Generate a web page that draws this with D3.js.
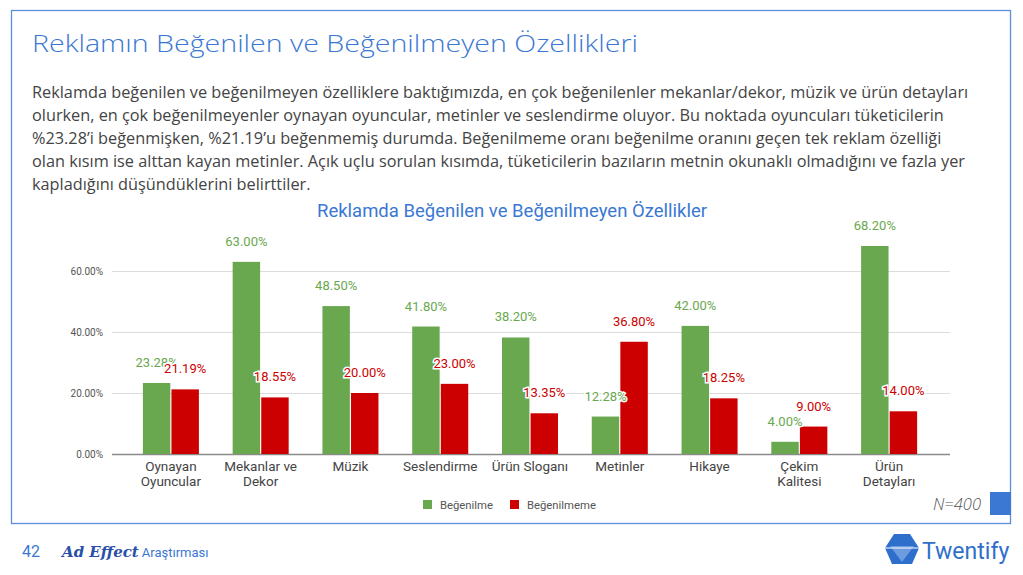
<!DOCTYPE html>
<html>
<head>
<meta charset="utf-8">
<script src="https://cdn.jsdelivr.net/npm/d3@7"></script>
<style>
  body { margin: 0; background: #fff; }
  svg { display: block; }
</style>
</head>
<body>
<div id="slide"></div>
<script>
// chart data
var categories = ["Oynayan Oyuncular", "Mekanlar ve Dekor", "Müzik", "Seslendirme", "Ürün Sloganı",
                  "Metinler", "Hikaye", "Çekim Kalitesi", "Ürün Detayları"];
var categoryLines = [["Oynayan", "Oyuncular"], ["Mekanlar ve", "Dekor"], ["Müzik"], ["Seslendirme"],
                     ["Ürün Sloganı"], ["Metinler"], ["Hikaye"], ["Çekim", "Kalitesi"], ["Ürün", "Detayları"]];
var liked = [23.28, 63.00, 48.50, 41.80, 38.20, 12.28, 42.00, 4.00, 68.20];
var disliked = [21.19, 18.55, 20.00, 23.00, 13.35, 36.80, 18.25, 9.00, 14.00];
var seriesNames = ["Beğenilme", "Beğenilmeme"];
var yTicks = [0, 20, 40, 60];

var paragraph = [
  "Reklamda beğenilen ve beğenilmeyen özelliklere baktığımızda, en çok beğenilenler mekanlar/dekor, müzik ve ürün detayları",
  "olurken, en çok beğenilmeyenler oynayan oyuncular, metinler ve seslendirme oluyor. Bu noktada oyuncuları tüketicilerin",
  "%23.28’i beğenmişken, %21.19’u beğenmemiş durumda. Beğenilmeme oranı beğenilme oranını geçen tek reklam özelliği",
  "olan kısım ise alttan kayan metinler. Açık uçlu sorulan kısımda, tüketicilerin bazıların metnin okunaklı olmadığını ve fazla yer",
  "kapladığını düşündüklerini belirttiler."
];

var width = 1023, height = 575;
var colors = ["#6aa84f", "#cc0000"];

var svg = d3.select("#slide").append("svg")
    .attr("width", width)
    .attr("height", height);

// frame
svg.append("rect")
    .attr("x", 11.5).attr("y", 10.5)
    .attr("width", 999).attr("height", 513)
    .attr("fill", "none")
    .attr("stroke", "#5b8fdc")
    .attr("stroke-width", 1.3);

svg.append("text")
    .attr("x", 32).attr("y", 52)
    .attr("textLength", 606)
    .attr("lengthAdjust", "spacingAndGlyphs")
    .style("font-family", "'Open Sans', sans-serif")
    .style("font-weight", 300)
    .style("font-size", "24px")
    .style("fill", "#3a78d3")
    .text("Reklamın Beğenilen ve Beğenilmeyen Özellikleri");

svg.append("g").selectAll("text")
    .data(paragraph)
    .enter().append("text")
    .attr("x", 32)
    .attr("y", function (d, i) { return 98 + i * 23; })
    .style("font-family", "'Open Sans', sans-serif")
    .style("font-size", "16.3px")
    .style("fill", "#444")
    .text(function (d) { return d; });

// chart
var x = d3.scaleBand()
    .domain(categories)
    .range([126, 934])
    .paddingInner(0.376)
    .paddingOuter(0.188);

var xSub = d3.scaleBand()
    .domain([0, 1])
    .range([0, x.bandwidth()])
    .paddingInner(0.04);

var y = d3.scaleLinear()
    .domain([0, 60])
    .range([454, 271]);

svg.append("text")
    .attr("x", 512).attr("y", 217)
    .attr("text-anchor", "middle")
    .style("font-family", "Roboto, sans-serif")
    .style("font-size", "18.5px")
    .style("fill", "#3a78d3")
    .text("Reklamda Beğenilen ve Beğenilmeyen Özellikler");

var grid = svg.append("g");
grid.selectAll("line")
    .data(yTicks)
    .enter().append("line")
    .attr("x1", 112).attr("x2", 950)
    .attr("y1", function (d) { return Math.round(y(d)) + 0.5; })
    .attr("y2", function (d) { return Math.round(y(d)) + 0.5; })
    .attr("stroke", function (d) { return d === 0 ? "#8a8a8a" : "#dcdcdc"; })
    .attr("stroke-width", function (d) { return d === 0 ? 1.5 : 1; });

var yAxis = svg.append("g")
    .attr("transform", "translate(106,0)")
    .call(d3.axisLeft(y).tickValues(yTicks).tickSize(0)
        .tickFormat(function (d) { return d.toFixed(2) + "%"; }));
yAxis.select(".domain").remove();
yAxis.selectAll("text")
    .style("font-family", "Roboto, sans-serif")
    .style("font-size", "10px")
    .style("fill", "#555");

var rows = categories.map(function (c, i) {
    return { cat: c, values: [liked[i], disliked[i]] };
});

var groups = svg.append("g").selectAll("g")
    .data(rows)
    .enter().append("g")
    .attr("transform", function (d) { return "translate(" + x(d.cat) + ",0)"; });

groups.selectAll("rect")
    .data(function (d) { return d.values; })
    .enter().append("rect")
    .attr("x", function (d, i) { return xSub(i); })
    .attr("y", function (d) { return y(d); })
    .attr("width", xSub.bandwidth())
    .attr("height", function (d) { return y(0) - y(d); })
    .attr("fill", function (d, i) { return colors[i]; });

groups.selectAll("text.val")
    .data(function (d) { return d.values; })
    .enter().append("text")
    .attr("class", "val")
    .attr("x", function (d, i) { return xSub(i) + xSub.bandwidth() / 2; })
    .attr("y", function (d) { return y(d) - 16; })
    .attr("text-anchor", "middle")
    .style("font-family", "Roboto, sans-serif")
    .style("font-size", "13px")
    .style("fill", function (d, i) { return colors[i]; })
    .style("stroke", "#fff")
    .style("stroke-width", 3)
    .style("paint-order", "stroke")
    .text(function (d) { return d.toFixed(2) + "%"; });

// category labels
svg.append("g").selectAll("text")
    .data(categories)
    .enter().append("text")
    .attr("x", function (d) { return x(d) + x.bandwidth() / 2; })
    .attr("y", 471)
    .attr("text-anchor", "middle")
    .style("font-family", "Roboto, sans-serif")
    .style("font-size", "13.5px")
    .style("fill", "#444")
    .selectAll("tspan")
    .data(function (d, i) { return categoryLines[i]; })
    .enter().append("tspan")
    .attr("x", function () { var c = d3.select(this.parentNode).datum(); return x(c) + x.bandwidth() / 2; })
    .attr("dy", function (d, i) { return i === 0 ? 0 : 14.5; })
    .text(function (d) { return d; });

// legend
var legend = svg.append("g").selectAll("g")
    .data(seriesNames)
    .enter().append("g")
    .attr("transform", function (d, i) { return "translate(" + (423 + i * 87) + ",500)"; });
legend.append("rect")
    .attr("width", 9).attr("height", 9)
    .attr("fill", function (d, i) { return colors[i]; });
legend.append("text")
    .attr("x", 17).attr("y", 8.5)
    .style("font-family", "Roboto, sans-serif")
    .style("font-size", "11.3px")
    .style("fill", "#555")
    .text(function (d) { return d; });

svg.append("text")
    .attr("x", 981).attr("y", 510)
    .attr("text-anchor", "end")
    .style("font-family", "'Open Sans', sans-serif")
    .style("font-style", "italic")
    .style("font-weight", 300)
    .style("font-size", "16.5px")
    .style("fill", "#555")
    .text("N=400");

svg.append("rect")
    .attr("x", 990).attr("y", 492)
    .attr("width", 21).attr("height", 23)
    .attr("fill", "#3a78d3");

// footer
svg.append("text")
    .attr("x", 22).attr("y", 557)
    .style("font-family", "Roboto, sans-serif")
    .style("font-size", "16px")
    .style("fill", "#3a78d3")
    .text("42");

var foot = svg.append("text")
    .attr("x", 62).attr("y", 557);
foot.append("tspan")
    .style("font-family", "'DejaVu Serif', serif")
    .style("font-style", "italic")
    .style("font-weight", "bold")
    .style("font-size", "15px")
    .style("fill", "#2a4fa8")
    .text("Ad Effect");
foot.append("tspan")
    .attr("dx", 3)
    .style("font-family", "Roboto, sans-serif")
    .style("font-size", "13px")
    .style("fill", "#3a78d3")
    .text("Araştırması");

// logo
var logo = svg.append("g").attr("transform", "translate(902,550)");
logo.append("path")
    .attr("d", "M-8,-16 L8,-16 L17,-2 L10,14 L-10,14 L-17,-2 Z")
    .attr("fill", "#2f6fcc");
logo.append("path")
    .attr("d", "M-12,-4 L12,-4 L0,12 Z")
    .attr("fill", "#6c9be0");
logo.append("path")
    .attr("d", "M-17,-2 L17,-2")
    .attr("stroke", "#fff").attr("stroke-width", 1.2);
svg.append("text")
    .attr("x", 922).attr("y", 559)
    .style("font-family", "Roboto, sans-serif")
    .style("font-size", "23px")
    .style("fill", "#2f6fcc")
    .text("Twentify");
</script>
</body>
</html>
